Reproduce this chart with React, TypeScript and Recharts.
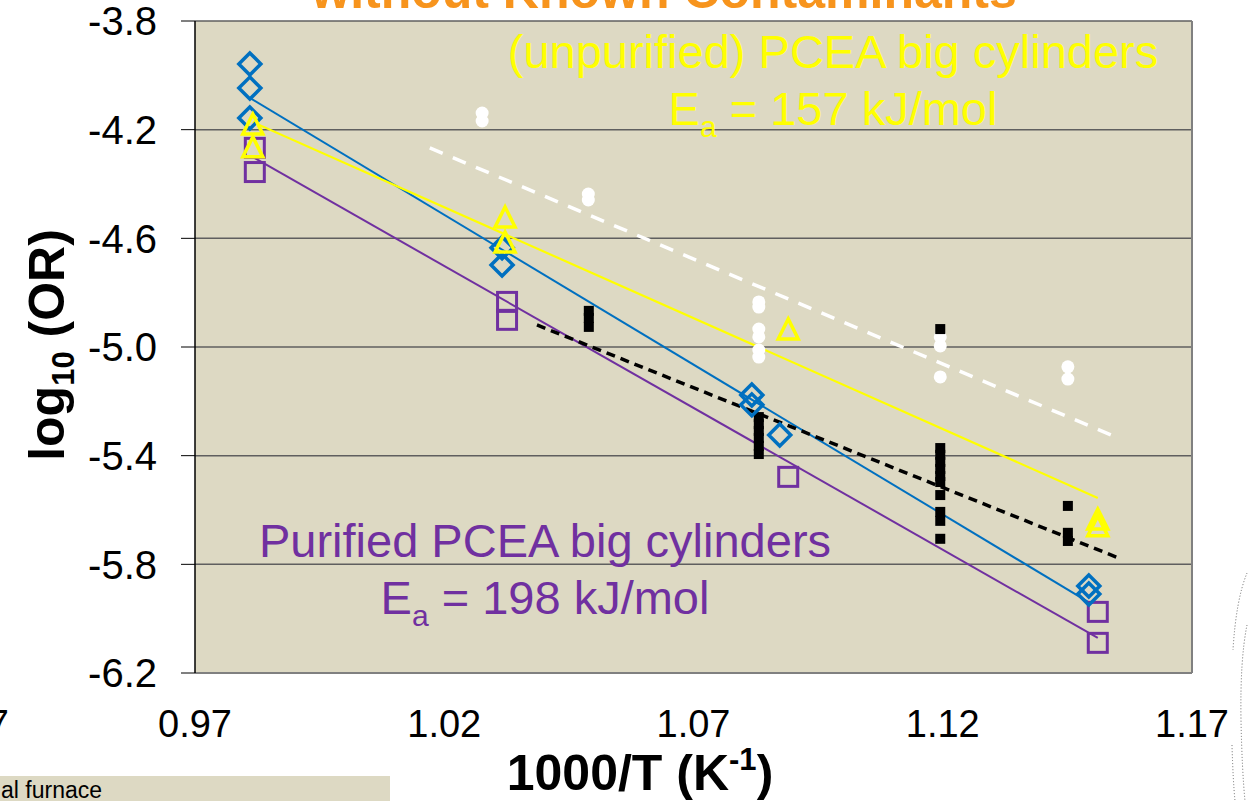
import { ComposedChart, Scatter, Line, XAxis, YAxis, CartesianGrid, ReferenceLine } from 'recharts'

const FONT = '"Liberation Sans", Arial, sans-serif'

// axis ticks
const xTicks = [0.97, 1.02, 1.07, 1.12, 1.17]
const yTicks = [-6.2, -5.8, -5.4, -5.0, -4.6, -4.2, -3.8]

// Purified PCEA big cylinders (blue diamonds)
const diamondX = [0.981, 0.981, 0.981, 1.0316, 1.0316, 1.0817, 1.0817, 1.0873, 1.1493, 1.1493]
const diamondY = [-3.958, -4.047, -4.157, -4.635, -4.698, -5.177, -5.213, -5.324, -5.88, -5.909]

// (unpurified) PCEA big cylinders (yellow triangles)
const triangleX = [0.9816, 0.9816, 1.0322, 1.0322, 1.089, 1.1511, 1.1511]
const triangleY = [-4.183, -4.267, -4.525, -4.617, -4.937, -5.637, -5.662]

// purple squares
const squareX = [0.982, 0.982, 1.0326, 1.0326, 1.089, 1.1511, 1.1511]
const squareY = [-4.267, -4.356, -4.834, -4.9, -5.478, -5.975, -6.089]

// black markers
const blackX = [
  1.049, 1.049, 1.049,
  1.0831, 1.0831, 1.0831, 1.0831, 1.0831, 1.0831,
  1.1195, 1.1195, 1.1195, 1.1195, 1.1195, 1.1195, 1.1195, 1.1195, 1.1195, 1.1195, 1.1195,
  1.1451, 1.1451, 1.1451,
]
const blackY = [
  -4.867, -4.893, -4.926,
  -5.258, -5.284, -5.309, -5.335, -5.364, -5.394,
  -4.934, -5.372, -5.397, -5.423, -5.449, -5.475, -5.497, -5.545, -5.607, -5.64, -5.706,
  -5.585, -5.684, -5.714,
]

// white markers
const whiteX = [1.0276, 1.0276, 1.0489, 1.0489, 1.0831, 1.0831, 1.0831, 1.0831, 1.0831, 1.0831, 1.1195, 1.1195, 1.1195, 1.1451, 1.1451]
const whiteY = [-4.139, -4.168, -4.437, -4.459, -4.834, -4.853, -4.934, -4.963, -5.011, -5.037, -4.963, -4.996, -5.11, -5.073, -5.118]

// fit lines (start / end)
const blueFitX = [0.981, 1.1495]
const blueFitY = [-4.083, -5.942]
const yellowFitX = [0.9816, 1.1511]
const yellowFitY = [-4.172, -5.556]
const purpleFitX = [0.982, 1.1511]
const purpleFitY = [-4.305, -6.071]
const blackFitX = [1.0386, 1.1552]
const blackFitY = [-4.919, -5.776]
const whiteFitX = [1.0171, 1.1552]
const whiteFitY = [-4.267, -5.335]

const pts = (xs: number[], ys: number[]) => xs.map((x, i) => ({ x, y: ys[i] }))

const Diamond = (p: any) => (
  <path
    d={`M${p.cx},${p.cy - 11} L${p.cx + 11},${p.cy} L${p.cx},${p.cy + 11} L${p.cx - 11},${p.cy} Z`}
    fill="none" stroke="#0070C0" strokeWidth={3.5}
  />
)
const Triangle = (p: any) => (
  <path
    d={`M${p.cx},${p.cy - 11} L${p.cx + 10},${p.cy + 9} L${p.cx - 10},${p.cy + 9} Z`}
    fill="none" stroke="#FFFF00" strokeWidth={3.5}
  />
)
const Square = (p: any) => (
  <rect x={p.cx - 9.5} y={p.cy - 9.5} width={19} height={19} fill="none" stroke="#7030A0" strokeWidth={3} />
)
const BlackSq = (p: any) => <rect x={p.cx - 5} y={p.cy - 5} width={10} height={10} fill="#000" />
const WhiteDot = (p: any) => <circle cx={p.cx} cy={p.cy} r={6.5} fill="#fff" />

export default function App() {
  return (
    <div style={{ position: 'absolute', left: 0, top: 0, width: 1248, height: 801, background: '#fff', overflow: 'hidden' }}>
      <ComposedChart width={1248} height={801} margin={{ top: 21, right: 56, left: 0, bottom: 0 }}>
        <CartesianGrid vertical={false} fill="#DDD9C3" fillOpacity={1} stroke="#5f5f5f" strokeWidth={1.5} />
        <XAxis
          type="number" dataKey="x" domain={[0.97, 1.17]} ticks={xTicks} interval={0} allowDataOverflow
          height={128} tickSize={0} tickMargin={37}
          axisLine={{ stroke: '#808080', strokeWidth: 2 }}
          tick={{ fill: '#000', fontSize: 38, fontFamily: FONT }}
          tickFormatter={(v: number) => v.toFixed(2)}
        />
        <YAxis
          type="number" dataKey="y" domain={[-6.2, -3.8]} ticks={yTicks} interval={0} allowDataOverflow
          width={195} tickSize={14} tickMargin={24}
          axisLine={{ stroke: '#000', strokeWidth: 1.5 }}
          tickLine={{ stroke: '#000', strokeWidth: 1 }}
          tick={{ fill: '#000', fontSize: 40, fontFamily: FONT }}
          tickFormatter={(v: number) => v.toFixed(1)}
        />
        <ReferenceLine x={1.17} stroke="#808080" strokeWidth={2} />

        <Line data={pts(whiteFitX, whiteFitY)} dataKey="y" type="linear" stroke="#fff" strokeWidth={3.5} strokeDasharray="14 11" dot={false} isAnimationActive={false} />
        <Line data={pts(purpleFitX, purpleFitY)} dataKey="y" type="linear" stroke="#7030A0" strokeWidth={2} dot={false} isAnimationActive={false} />
        <Line data={pts(blueFitX, blueFitY)} dataKey="y" type="linear" stroke="#0070C0" strokeWidth={2} dot={false} isAnimationActive={false} />
        <Line data={pts(yellowFitX, yellowFitY)} dataKey="y" type="linear" stroke="#FFFF00" strokeWidth={2.2} dot={false} isAnimationActive={false} />

        <Scatter data={pts(whiteX, whiteY)} shape={WhiteDot} isAnimationActive={false} />
        <Scatter data={pts(blackX, blackY)} shape={BlackSq} isAnimationActive={false} />
        <Scatter data={pts(squareX, squareY)} shape={Square} isAnimationActive={false} />
        <Scatter data={pts(diamondX, diamondY)} shape={Diamond} isAnimationActive={false} />
        <Line data={pts(blackFitX, blackFitY)} dataKey="y" type="linear" stroke="#000" strokeWidth={3.5} strokeDasharray="9 6" dot={false} isAnimationActive={false} />
        <Scatter data={pts(triangleX, triangleY)} shape={Triangle} isAnimationActive={false} />
      </ComposedChart>

      <svg width={1248} height={801} style={{ position: 'absolute', left: 0, top: 0, pointerEvents: 'none' }} fontFamily={FONT}>
        <text x={664} y={8} textAnchor="middle" fontSize={50} fontWeight="bold" fill="#F7941D">without Known Contaminants</text>

        <text x={833} y={68} textAnchor="middle" fontSize={47} fill="#FFFF00">(unpurified) PCEA big cylinders</text>
        <text x={833} y={125} textAnchor="middle" fontSize={47} fill="#FFFF00">
          E<tspan fontSize={30} dy={12}>a</tspan><tspan dy={-12}> = 157 kJ/mol</tspan>
        </text>

        <text x={545} y={557} textAnchor="middle" fontSize={47} fill="#7030A0">Purified PCEA big cylinders</text>
        <text x={545} y={614} textAnchor="middle" fontSize={47} fill="#7030A0">
          E<tspan fontSize={30} dy={12}>a</tspan><tspan dy={-12}> = 198 kJ/mol</tspan>
        </text>

        <text transform="translate(64,345) rotate(-90)" textAnchor="middle" fontSize={50} fontWeight="bold" fill="#000">
          log<tspan fontSize={31} dy={10}>10</tspan><tspan dy={-10}> (OR)</tspan>
        </text>
        <text x={640} y={790} textAnchor="middle" fontSize={50} fontWeight="bold" fill="#000">
          1000/T (K<tspan fontSize={31} dy={-20}>-1</tspan><tspan dy={20}>)</tspan>
        </text>

        <text x={9} y={737} textAnchor="end" fontSize={38} fill="#000">7</text>
        <rect x={0} y={776} width={390} height={25} fill="#DDD9C3" />
        <text x={1} y={798} fontSize={23} fill="#000">al furnace</text>

        <path d="M1247,573 Q1236,600 1233,650" fill="none" stroke="#666" strokeWidth={1} strokeDasharray="1 2" />
        <path d="M1232,745 Q1233,780 1235,801" fill="none" stroke="#666" strokeWidth={1} strokeDasharray="1 2" />
        <path d="M1247,625 Q1240,660 1241,720 Q1242,770 1245,801" fill="none" stroke="#666" strokeWidth={1} strokeDasharray="1 2" />
      </svg>
    </div>
  )
}
